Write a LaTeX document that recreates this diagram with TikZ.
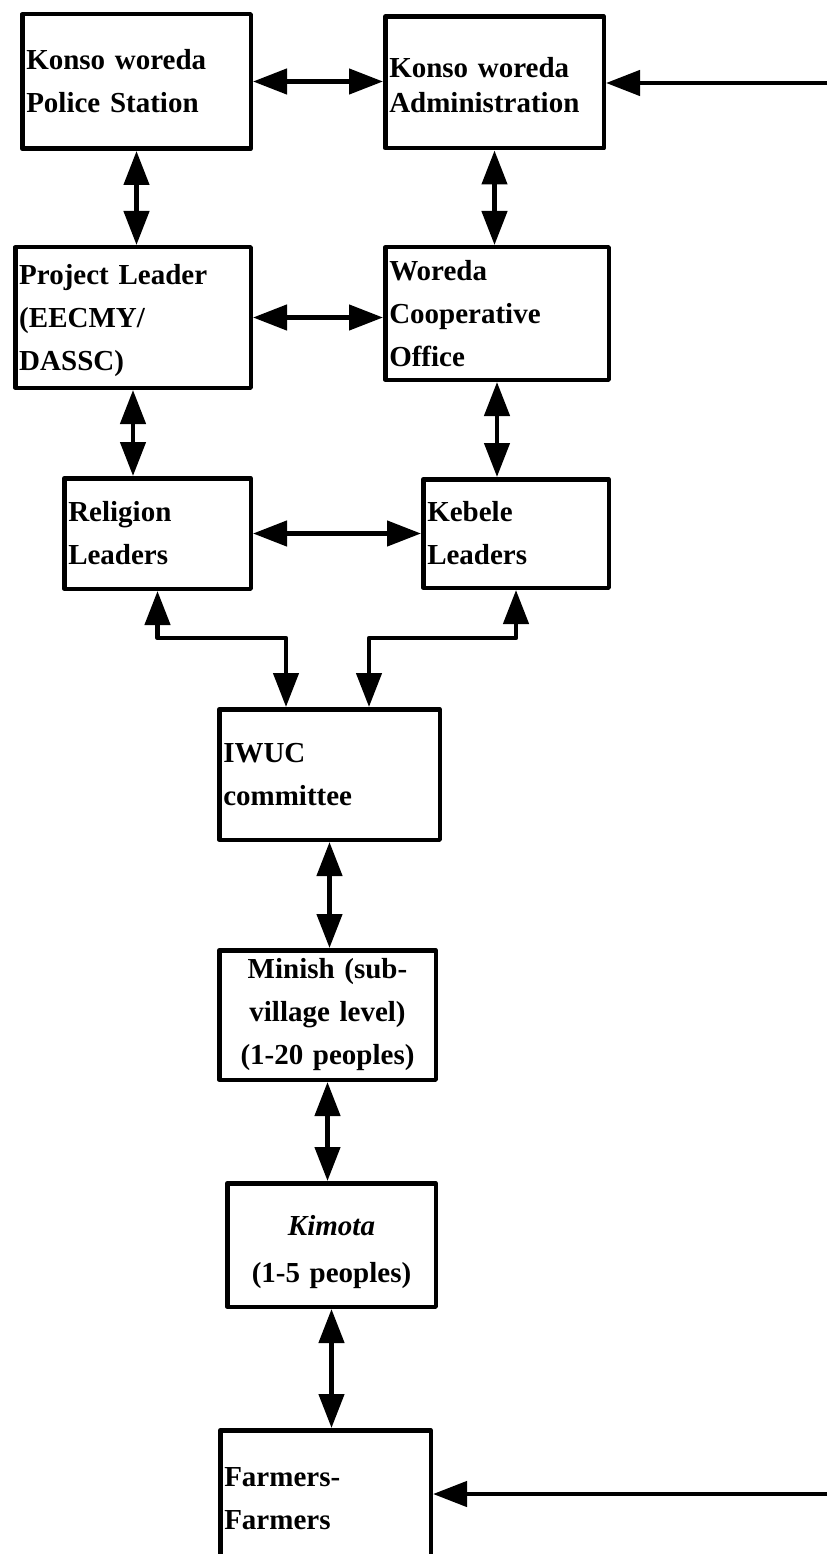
\documentclass[tikz,border=0pt]{standalone}
\usepackage{fontspec}
\setmainfont{Liberation Serif}
\usetikzlibrary{arrows.meta}

\begin{document}
\begin{tikzpicture}[x=1pt, y=-1pt,
  unitbox/.style={draw, line width=4.5pt, line join=round, inner xsep=4pt,
                  inner ysep=0pt, align=left,
                  font=\fontsize{29}{43}\selectfont\bfseries},
  link/.style={line width=4.5pt, line join=round,
               {Triangle[length=34pt, width=25pt]}-{Triangle[length=34pt, width=25pt]}},
  inlink/.style={line width=4.5pt, -{Triangle[length=34pt, width=25pt]}}]
\useasboundingbox (0,0) rectangle (827,1554);
\clip (0,0) rectangle (827,1554);

% boxes
\node[unitbox, text width=220.5pt, minimum height=134.5pt] (police) at (136.5,81.5)
  {Konso woreda\\Police Station};
\node[unitbox, text width=210.5pt, minimum height=131.5pt,
      font=\fontsize{29}{35}\selectfont\bfseries] (admin) at (494.5,82.5)
  {\rule{0pt}{26pt}Konso woreda\\Administration};
\node[unitbox, text width=227.5pt, minimum height=140.5pt] (project) at (133,317.5)
  {\rule{0pt}{26pt}Project Leader\\(EECMY/\\DASSC)};
\node[unitbox, text width=215.5pt, minimum height=132.5pt] (woreda) at (497,313.5)
  {Woreda\\Cooperative\\Office};
\node[unitbox, text width=178.5pt, minimum height=110.5pt] (religion) at (157.5,533.5)
  {Religion\\Leaders};
\node[unitbox, text width=177.5pt, minimum height=108.5pt] (kebele) at (516,533.5)
  {Kebele\\Leaders};
\node[unitbox, text width=212.5pt, minimum height=130.5pt] (iwuc) at (329.5,774.5)
  {IWUC\\committee};
\node[unitbox, text width=208.5pt, minimum height=129.5pt, align=center] (minish) at (327.5,1015)
  {Minish (sub-\\village level)\\(1-20 peoples)};
\node[unitbox, text width=200.5pt, minimum height=123.5pt, align=center,
      font=\fontsize{29}{47}\selectfont\bfseries] (kimota) at (331.5,1245)
  {\rule{0pt}{34pt}\textit{Kimota}\\(1-5 peoples)};
\node[unitbox, text width=202.5pt, minimum height=137.5pt] (farmers) at (325.5,1499)
  {Farmers-\\Farmers};

% free ends at the right margin
\coordinate (adminin) at (827,83);
\coordinate (farmin) at (827,1494);

% connectors
\draw[link] (police.east) -- (police.east -| admin.west);
\draw[inlink] (adminin) -- (adminin -| admin.east);
\draw[link] (police.south) -- (police.south |- project.north);
\draw[link] (admin.south) -- (admin.south |- woreda.north);
\draw[link] (project.east) -- (project.east -| woreda.west);
\draw[link] (project.south) -- (project.south |- religion.north);
\draw[link] (woreda.south) -- (woreda.south |- kebele.north);
\draw[link] (religion.east) -- (religion.east -| kebele.west);
\draw[link] (religion.south) -- ++(0,47) -| ([xshift=-43.5pt]iwuc.north);
\draw[link] (kebele.south) -- ++(0,48) -| ([xshift=39.5pt]iwuc.north);
\draw[link] (iwuc.south) -- (iwuc.south |- minish.north);
\draw[link] (minish.south) -- (minish.south |- kimota.north);
\draw[link] (kimota.south) -- (kimota.south |- farmers.north);
\draw[inlink] (farmin) -- (farmin -| farmers.east);
\end{tikzpicture}
\end{document}
